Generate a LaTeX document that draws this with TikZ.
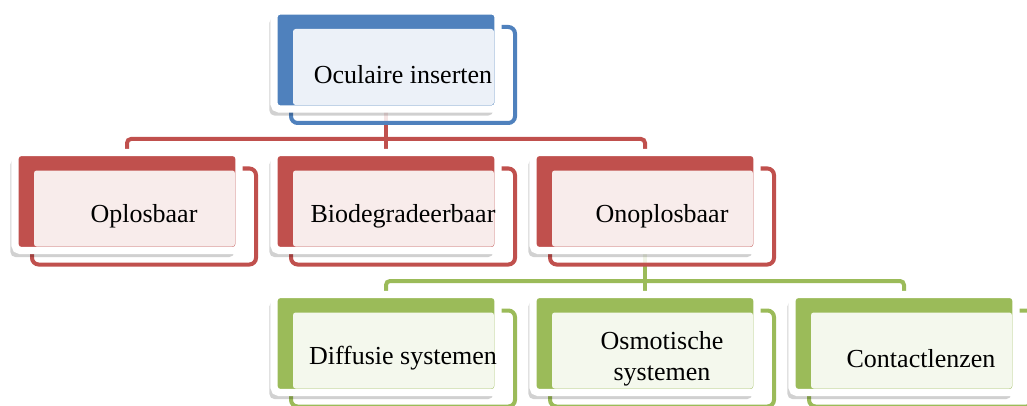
\documentclass[tikz,border=0pt]{standalone}
\usepackage{fontspec}
\setmainfont{Liberation Serif}
\usetikzlibrary{
  calc,
  shadows,
  backgrounds
}

\definecolor{accblue}{HTML}{4F81BD}
\definecolor{accred}{HTML}{C0504D}
\definecolor{accgreen}{HTML}{9BBB59}

% one box of the chart: front frame, back card, light text field, label
\newcommand{\orgunit}[5]{%
  \node[frontbox=#4] (#1f) at ($(#2,#3)+(17,15)$) {};
  \node[backbox=#4]  (#1)  at (#2,#3) {};
  \fill[#4!11,rounded corners=2pt]
    ([shift={(2,2)}]#1f.north west) rectangle ([shift={(-4,-4)}]#1.south east);
  \node[lbl] (#1t) at (#1f) {#5};
}

\begin{document}
\begin{tikzpicture}[x=0.75pt,y=-0.75pt,
  backbox/.style={rectangle,rounded corners=4pt,fill=#1,draw=white,
    line width=5.5pt,minimum width=168pt,minimum height=73.5pt,
    inner sep=0pt,outer sep=0pt,
    drop shadow={shadow xshift=-3.5pt,shadow yshift=-5pt,opacity=.18,fill=black}},
  frontbox/.style={rectangle,rounded corners=5pt,draw=#1,fill=white,
    fill opacity=.85,line width=3pt,minimum width=168pt,minimum height=72pt,
    inner sep=0pt,outer sep=0pt},
  lbl/.style={font=\fontsize{19.5}{23}\selectfont,align=center,text=black},
  redline/.style={draw=accred,line width=3pt,rounded corners=3pt},
  greenline/.style={draw=accgreen,line width=3pt,rounded corners=3pt}]
  \useasboundingbox (0,0) rectangle (1027,406);

  \orgunit{top}{386}{60}{accblue}{Oculaire inserten}

  \orgunit{oplos}{127}{201.5}{accred}{Oplosbaar}
  \orgunit{bio}{386}{201.5}{accred}{Biodegradeerbaar}
  \orgunit{onopl}{645}{201.5}{accred}{Onoplosbaar}

  \orgunit{diff}{386}{343.5}{accgreen}{Diffusie systemen}
  \orgunit{osmo}{645}{343.5}{accgreen}{Osmotische\\systemen}
  \orgunit{contact}{904}{343.5}{accgreen}{Contactlenzen}

  \begin{scope}[on background layer]
    \coordinate (redbus) at (386,139);
    \coordinate (greenbus) at (645,281);
    \draw[redline] (oplos.north) |- (redbus) -| (onopl.north);
    \draw[redline] (top.south) -- (bio.north);
    \draw[greenline] (diff.north) |- (greenbus) -| (contact.north);
    \draw[greenline] (onopl.south) -- (osmo.north);
  \end{scope}
\end{tikzpicture}
\end{document}
